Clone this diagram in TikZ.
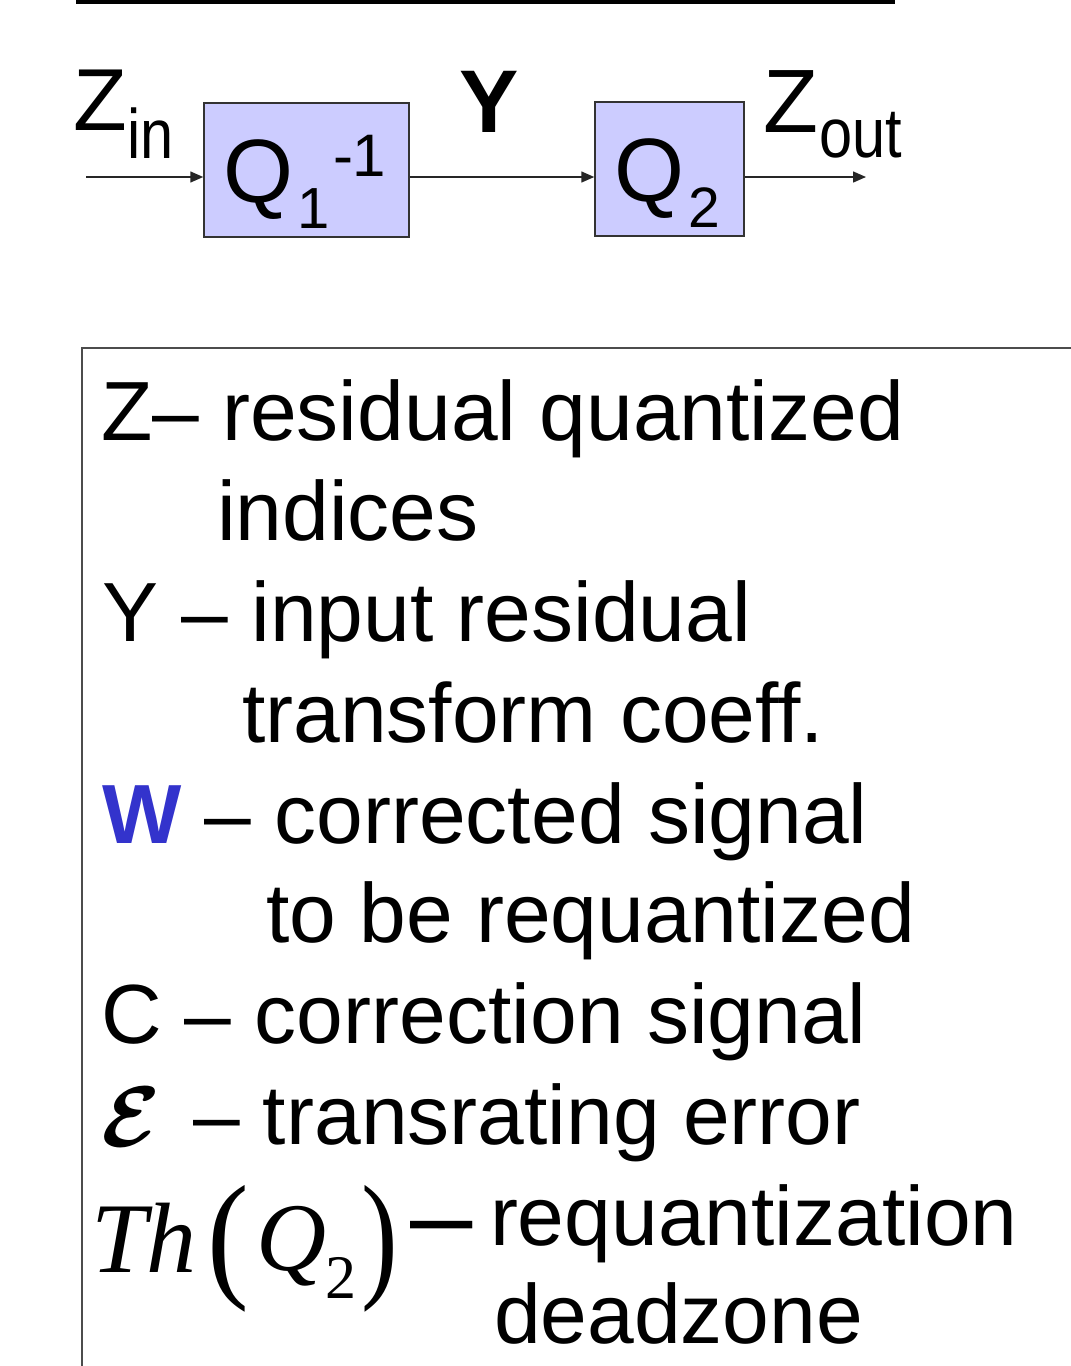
\documentclass[tikz,border=0pt]{standalone}
\usepackage{graphicx}
\usepackage{fontspec}
\setmainfont{Liberation Sans}
\newfontfamily\tnr{Liberation Serif}
\usetikzlibrary{arrows.meta}
\definecolor{boxfill}{HTML}{CCCCFF}
\definecolor{wblue}{HTML}{3333CC}
\begin{document}
\begin{tikzpicture}[x=1pt,y=-1pt,
  txt/.style={anchor=base west, inner sep=0pt, outer sep=0pt},
  lg/.style={txt, font=\fontsize{84}{100}\selectfont},
  blk/.style={draw=black!80, line width=1.5pt, fill=boxfill, inner sep=0pt},
  sig/.style={draw=black!85, line width=1.5pt, -{Triangle[length=13pt,width=11pt]}},
]
\useasboundingbox (0,0) rectangle (1071,1366);
\fill[white] (0,0) rectangle (1071,1366);
% top rule
\draw[line width=5pt] (76,1.5) -- (895,1.5);
% blocks
\node[blk, minimum width=205pt, minimum height=134pt] (q1) at (306.5,170) {};
\node[blk, minimum width=149pt, minimum height=134pt] (q2) at (669.5,169) {};
% block texts
\node[txt, font=\fontsize{90}{90}\selectfont] (q1Q) at (223,202) {Q};
\node[txt, font=\fontsize{58}{58}\selectfont] (q1sub) at (297,228) {1};
\node[txt, font=\fontsize{60}{60}\selectfont] (q1sup) at (333,176) {-1};
\node[txt, font=\fontsize{90}{90}\selectfont] (q2Q) at (614,201) {Q};
\node[txt, font=\fontsize{57}{57}\selectfont] (q2sub) at (688,227) {2};
% signal labels
\node[txt, font=\fontsize{88}{88}\selectfont] (zinZ) at (73,130) {Z};
\node[txt, font=\fontsize{70}{70}\selectfont] (zinS) at (127,158) {\scalebox{0.85}[1]{in}};
\node[txt, font=\fontsize{89}{89}\selectfont\bfseries] (ylab) at (459,132) {Y};
\node[txt, font=\fontsize{90}{90}\selectfont] (zoutZ) at (763,132) {Z};
\node[txt, font=\fontsize{70}{70}\selectfont] (zoutS) at (819,157) {\scalebox{0.85}[1]{out}};
% connectors
\coordinate (zin) at (86,177);
\coordinate (zout) at (866,177);
\draw[sig] (zin) -- (zin -| q1.west);
\draw[sig] (zin -| q1.east) -- (zin -| q2.west);
\draw[sig] (zin -| q2.east) -- (zout);
% legend frame
\draw[line width=2pt, draw=black!70] (1071,348) -- (82,348) -- (82,1366);
% legend text
\node[lg] (l1) at (101,440) {Z– residual quantized};
\node[lg] (l2) at (217,540) {indices};
\node[lg] (l3) at (102,641) {Y – input residual};
\node[lg] (l4) at (242,742) {transform coeff.};
\node[lg] (l5) at (102,843) {\textcolor{wblue}{\bfseries W} – corrected signal};
\node[lg] (l6) at (266,942) {to be requantized};
\node[lg] (l7) at (101,1043) {C – correction signal};
\node[txt] (l8a) at (101,1146) {\scalebox{8.6}{\boldmath$\mathcal{E}$}};
\node[lg] (l8b) at (193,1144) {– transrating error};
\node[txt, font=\fontsize{100}{100}\selectfont\tnr\itshape] (thT) at (91,1272) {Th};
\node[txt, font=\fontsize{100}{100}\selectfont\tnr] (thL) at (207,1282) {\scalebox{1.25}[1.4]{(}};
\node[txt, font=\fontsize{97}{97}\selectfont\tnr\itshape] (thQ) at (256,1270) {Q};
\node[txt, font=\fontsize{62}{62}\selectfont\tnr] (th2) at (325,1298) {2};
\node[txt, font=\fontsize{100}{100}\selectfont\tnr] (thR) at (361,1282) {\scalebox{1.1}[1.4]{)}};
\node[txt, font=\fontsize{112}{112}\selectfont] (thD) at (410,1253) {–};
\node[lg] (l9) at (490,1245) {requantization};
\node[lg] (l10) at (494,1343) {deadzone};
\end{tikzpicture}
\end{document}
